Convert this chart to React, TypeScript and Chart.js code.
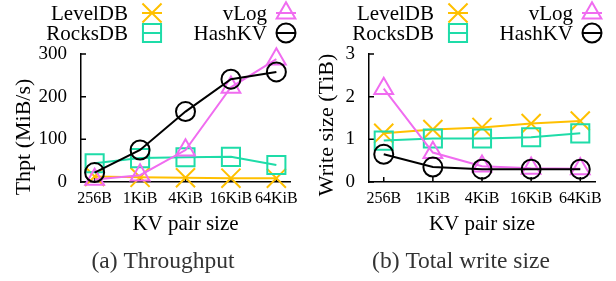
import React, { useEffect, useRef } from 'react';
import { Chart, registerables } from 'chart.js';

Chart.register(...registerables);

// ---------- data ----------
const categories = ['256B', '1KiB', '4KiB', '16KiB', '64KiB'];
const seriesNames = ['LevelDB', 'RocksDB', 'vLog', 'HashKV'];

const thptLevelDB = [13, 11, 10, 9, 9];
const thptRocksDB = [44, 56, 58, 59, 40];
const thptVLog = [6, 16, 75, 222, 288];
const thptHashKV = [22, 75, 165, 241, 258];
const thptTicks = [0, 100, 200, 300];

const writeLevelDB = [1.14, 1.23, 1.28, 1.37, 1.43];
const writeRocksDB = [0.97, 1.02, 1.02, 1.05, 1.14];
const writeVLog = [2.19, 0.69, 0.37, 0.32, 0.31];
const writeHashKV = [0.65, 0.35, 0.3, 0.3, 0.3];
const writeTicks = [0, 1, 2, 3];

// ---------- styles ----------
const FONT = "'Liberation Serif', 'Times New Roman', serif";
const COLORS = ['#FFC000', '#1EDCA8', '#F06CF0', '#000000'];
const STYLES = ['crossRot', 'rect', 'triangle', 'circle'];
const RADII = [13.5, 12.8, 10.8, 9.5];

function drawShape(ctx: CanvasRenderingContext2D, style: string, x: number, y: number, r: number) {
  ctx.beginPath();
  if (style === 'crossRot') {
    const o = r * Math.SQRT1_2;
    ctx.moveTo(x - o, y - o); ctx.lineTo(x + o, y + o);
    ctx.moveTo(x + o, y - o); ctx.lineTo(x - o, y + o);
  } else if (style === 'rect') {
    const h = r * Math.SQRT1_2;
    ctx.rect(x - h, y - h, 2 * h, 2 * h);
  } else if (style === 'triangle') {
    const s = Math.sin(Math.PI / 3) * r;
    ctx.moveTo(x, y - r); ctx.lineTo(x - s, y + r / 2); ctx.lineTo(x + s, y + r / 2); ctx.closePath();
  } else {
    ctx.arc(x, y, r, 0, Math.PI * 2);
  }
  ctx.stroke();
}

const decorPlugin = {
  id: 'decor',
  beforeDatasetsDraw(chart: any) {
    const ctx = chart.ctx as CanvasRenderingContext2D;
    const { left, bottom } = chart.chartArea;
    const xs = chart.scales.x, ys = chart.scales.y;
    ctx.save();
    ctx.strokeStyle = '#000';
    ctx.lineWidth = 1.5;
    ctx.beginPath();
    ys.ticks.forEach((t: any) => {
      const y = ys.getPixelForValue(t.value);
      ctx.moveTo(left, y); ctx.lineTo(left + 5, y);
    });
    xs.ticks.forEach((t: any) => {
      const x = xs.getPixelForValue(t.value);
      ctx.moveTo(x, bottom); ctx.lineTo(x, bottom - 5);
    });
    ctx.stroke();
    ctx.restore();
  },
  afterDraw(chart: any, _args: any, opts: any) {
    const ctx = chart.ctx as CanvasRenderingContext2D;
    const { left, right } = chart.chartArea;
    ctx.save();
    ctx.fillStyle = '#000';
    // y title
    ctx.save();
    ctx.translate(opts.yTitleX, opts.yTitleY);
    ctx.rotate(-Math.PI / 2);
    ctx.font = `22px ${FONT}`;
    ctx.textAlign = 'center';
    ctx.textBaseline = 'alphabetic';
    ctx.fillText(opts.yTitle, 0, 0);
    ctx.restore();
    // x title
    ctx.font = `21px ${FONT}`;
    ctx.textAlign = 'center';
    ctx.textBaseline = 'alphabetic';
    ctx.fillText(opts.xTitle, (left + right) / 2, 229.5);
    // caption
    ctx.fillStyle = '#333';
    ctx.font = `23.5px ${FONT}`;
    ctx.fillText(opts.caption, opts.captionX, 268);
    // legend
    ctx.font = `21px ${FONT}`;
    ctx.textAlign = 'right';
    const cols = [{ tx: 128, mx: 152 }, { tx: 267, mx: 286 }];
    const rows = [{ ty: 20, my: 13 }, { ty: 40, my: 33 }];
    seriesNames.forEach((name, i) => {
      const col = cols[Math.floor(i / 2)];
      const row = rows[i % 2];
      ctx.fillStyle = '#000';
      ctx.fillText(name, col.tx, row.ty);
      ctx.strokeStyle = COLORS[i];
      ctx.lineWidth = 2;
      ctx.beginPath();
      ctx.moveTo(col.mx - 10, row.my); ctx.lineTo(col.mx + 10, row.my);
      ctx.stroke();
      drawShape(ctx, STYLES[i], col.mx, row.my, RADII[i]);
    });
    ctx.restore();
  },
};

type PanelCfg = {
  series: number[][];
  yMax: number;
  yTicks: number[];
  yWidth: number;
  padRight: number;
  yTitle: string;
  yTitleX: number;
  yTitleY: number;
  caption: string;
  captionX: number;
};

function Panel({ cfg, left, width }: { cfg: PanelCfg; left: number; width: number }) {
  const ref = useRef<HTMLCanvasElement | null>(null);
  useEffect(() => {
    if (!ref.current) return;
    const datasets = cfg.series.map((vals, i) => ({
      label: seriesNames[i],
      data: vals.map((v, j) => ({ x: j, y: v })),
      borderColor: COLORS[i],
      backgroundColor: 'rgba(0,0,0,0)',
      borderWidth: 2,
      pointStyle: STYLES[i],
      pointRadius: RADII[i],
      pointBorderWidth: 2,
      pointBorderColor: COLORS[i],
      pointBackgroundColor: 'rgba(0,0,0,0)',
      fill: false,
      tension: 0,
      clip: false,
      order: 3 - i,
    }));
    const chart = new Chart(ref.current, {
      type: 'line',
      data: { datasets },
      plugins: [decorPlugin],
      options: {
        responsive: false,
        maintainAspectRatio: false,
        animation: false,
        events: [],
        layout: { padding: { left: 0, top: 54, right: cfg.padRight, bottom: 0 } },
        plugins: {
          legend: { display: false },
          tooltip: { enabled: false },
          decor: {
            yTitle: cfg.yTitle,
            yTitleX: cfg.yTitleX,
            yTitleY: cfg.yTitleY,
            xTitle: 'KV pair size',
            caption: cfg.caption,
            captionX: cfg.captionX,
          },
        } as any,
        scales: {
          x: {
            type: 'linear',
            min: -0.3,
            max: 4.3,
            afterBuildTicks: (s: any) => {
              s.ticks = categories.map((_, i) => ({ value: i }));
            },
            afterFit: (s: any) => {
              s.height = 99;
            },
            grid: { display: true, drawOnChartArea: false, drawTicks: false },
            border: { display: true, color: '#000', width: 1.5 },
            ticks: {
              callback: (v: any) => categories[v as number],
              font: { family: FONT, size: 16 },
              color: '#000',
              padding: 7,
              maxRotation: 0,
              autoSkip: false,
            },
          },
          y: {
            type: 'linear',
            min: 0,
            max: cfg.yMax,
            afterBuildTicks: (s: any) => {
              s.ticks = cfg.yTicks.map((v) => ({ value: v }));
            },
            afterFit: (s: any) => {
              s.width = cfg.yWidth;
            },
            grid: { display: true, drawOnChartArea: false, drawTicks: false },
            border: { display: true, color: '#000', width: 1.5 },
            ticks: {
              font: { family: FONT, size: 19 },
              color: '#000',
              padding: 14,
            },
          },
        },
      } as any,
    });
    return () => chart.destroy();
  }, []);
  return (
    <canvas
      ref={ref}
      width={width}
      height={281}
      style={{ position: 'absolute', left, top: 0, width: `${width}px`, height: '281px' }}
    />
  );
}

const thptCfg: PanelCfg = {
  series: [thptLevelDB, thptRocksDB, thptVLog, thptHashKV],
  yMax: 300,
  yTicks: thptTicks,
  yWidth: 81,
  padRight: 16,
  yTitle: 'Thpt (MiB/s)',
  yTitleX: 30,
  yTitleY: 137,
  caption: '(a) Throughput',
  captionX: 163,
};

const writeCfg: PanelCfg = {
  series: [writeLevelDB, writeRocksDB, writeVLog, writeHashKV],
  yMax: 3,
  yTicks: writeTicks,
  yWidth: 63,
  padRight: 21,
  yTitle: 'Write size (TiB)',
  yTitleX: 27,
  yTitleY: 125,
  caption: '(b) Total write size',
  captionX: 155,
};

export default function App() {
  return (
    <div style={{ position: 'fixed', left: 0, top: 0, width: 616, height: 281, background: '#fff', overflow: 'hidden' }}>
      <Panel cfg={thptCfg} left={0} width={306} />
      <Panel cfg={writeCfg} left={306} width={310} />
    </div>
  );
}
